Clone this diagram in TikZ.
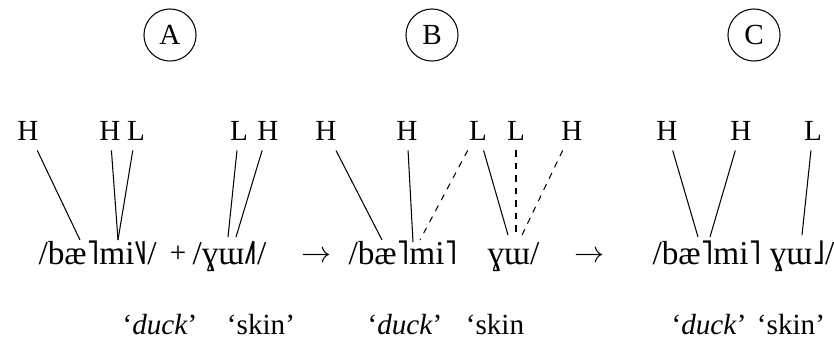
\documentclass[tikz,border=0pt]{standalone}
\usepackage{fontspec}
\setmainfont{Liberation Serif}
\begin{document}
\begin{tikzpicture}[x=0.48pt,y=-0.48pt,line width=0.5pt,font=\fontsize{14}{16}\selectfont,
  panel/.style={draw,circle,minimum size=25pt,inner sep=0pt},
  tone/.style={inner sep=4.5pt},
  word/.style={anchor=base west,inner sep=0pt,font=\fontsize{16}{18}\selectfont},
  gloss/.style={anchor=base,inner sep=0pt}]
\useasboundingbox (0,0) rectangle (834,352);
\node[panel] (A) at (170,35) {A}; \node[panel] (B) at (432,35) {B}; \node[panel] (C) at (754,35) {C};
% A
\node[tone] (ah1) at (28,131) {H}; \node[tone] (ah2) at (110,131) {H}; \node[tone] (al1) at (136,131) {L};
\node[tone] (al2) at (239,131) {L}; \node[tone] (ah3) at (268,131) {H};
\node[word] (aduck) at (38,264) {/bæ˥mi˥˩/}; \node[gloss] (plus) at (178,262) {+}; \node[word] (askin) at (192,264) {/ɣɯ˩˥/};
\coordinate (a1) at (80,240); \coordinate (a2) at (118,240); \coordinate (a3) at (228,237); \coordinate (a4) at (236,237);
\draw (ah1) -- (a1); \draw (ah2) -- (a2); \draw (al1) -- (a2); \draw (al2) -- (a3); \draw (ah3) -- (a4);
\node[gloss] (ga1) at (160,334) {‘\textit{duck}’}; \node[gloss] (ga2) at (261,334) {‘skin’};
\node[gloss] (arr1) at (316,262) {$\rightarrow$};
% B
\node[tone] (bh1) at (326,131) {H}; \node[tone] (bh2) at (407,131) {H}; \node[tone] (bl1) at (478,131) {L};
\node[tone] (bl2) at (516,131) {L}; \node[tone] (bh3) at (572,131) {H};
\node[word] (bduck) at (348,264) {/bæ˥mi˥}; \node[word] (bskin) at (487,264) {ɣɯ/};
\coordinate (b1) at (382,240); \coordinate (b2) at (413,242); \coordinate (b3) at (420,240);
\coordinate (b4) at (508,235); \coordinate (b5) at (516,235); \coordinate (b6) at (522,235);
\draw (bh1) -- (b1); \draw (bh2) -- (b2); \draw[dashed] (bl1) -- (b3); \draw (bl1) -- (b4);
\draw[dashed] (bl2) -- (b5); \draw[dashed] (bh3) -- (b6);
\node[gloss] (gb1) at (405,334) {‘\textit{duck}’}; \node[gloss] (gb2) at (495,334) {‘skin};
\node[gloss] (arr2) at (589,262) {$\rightarrow$};
% C
\node[tone] (ch1) at (667,131) {H}; \node[tone] (ch2) at (741,131) {H}; \node[tone] (cl1) at (813,131) {L};
\node[word] (cword) at (652,264) {/bæ˥mi˥ ɣɯ˩/};
\coordinate (c1) at (698,237); \coordinate (c2) at (710,237); \coordinate (c3) at (802,235);
\draw (ch1) -- (c1); \draw (ch2) -- (c2); \draw (cl1) -- (c3);
\node[gloss] (gc1) at (709,334) {‘\textit{duck}’}; \node[gloss] (gc2) at (791,334) {‘skin’};
\end{tikzpicture}
\end{document}
